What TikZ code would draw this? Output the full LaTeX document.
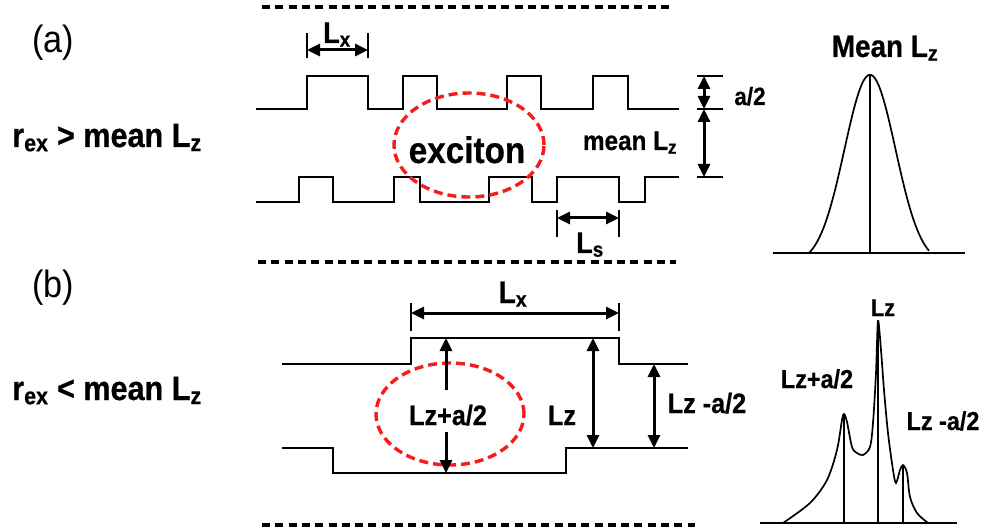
\documentclass[tikz,border=0pt]{standalone}
\usepackage{fontspec}
\setmainfont[FakeStretch=0.9, BoldFeatures={FakeBold=0.6}]{Liberation Sans}
\usetikzlibrary{arrows.meta,positioning,calc,shapes.geometric}
\definecolor{cExc}{HTML}{F51C1C}
\tikzset{
  >={Triangle[length=13pt,width=12pt]},
  lbl/.style={font=\fontsize{#1}{#1}\selectfont\bfseries, inner sep=0pt, anchor=base},
  tag/.style={font=\fontsize{#1}{#1}\selectfont, inner sep=0pt, anchor=base},
  prof/.style={line width=1.7pt, black},
  dim/.style={<->, line width=3pt},
  dimone/.style={->, line width=3pt},
  tickl/.style={line width=1.7pt},
  sepline/.style={line width=3.8pt, dash pattern=on 8pt off 5.3pt},
  exc/.style={draw=cExc, ellipse, line width=3.4pt, dash pattern=on 9pt off 5pt, inner sep=0pt},
}

\begin{document}
\begin{tikzpicture}[x=1pt, y=-1pt]
  \useasboundingbox (0,0) rectangle (989,532);
  % separators
  \draw[sepline] (262,7) -- (672,7);
  \draw[sepline] (258,262) -- (676,262);
  \draw[sepline] (262,525) -- (695,525);

  % left column
  \node[tag=38] (tagA) at (53,53) {(a)};
  \node[lbl=34] (condA) at (107,147) {r\textsubscript{ex} > mean L\textsubscript{z}};
  \node[tag=38] (tagB) at (53,297) {(b)};
  \node[lbl=34] (condB) at (107,400) {r\textsubscript{ex} < mean L\textsubscript{z}};

  % (a) rough interfaces
  \draw[prof] (256,109) -- (307,109) |- (368,76) |- (403,109) |- (437,76) |- (507,109)
              |- (541,76) |- (593,109) |- (628,76) |- (679,109);
  \draw[prof] (256,202) -- (299,202) |- (333,177) |- (394,202) |- (420,177) |- (489,202)
              |- (532,177) |- (557,202) |- (619,177) |- (645,202) |- (679,177);
  \node[exc, minimum width=150pt, minimum height=104pt] (excA) at (469,145) {};
  \node[lbl=37] (excitonA) at (467,163) {exciton};

  \coordinate (lxA1) at (307,50);
  \coordinate (lxA2) at (368,50);
  \draw[tickl] (307,33) -- (307,58) (368,33) -- (368,58);
  \draw[dim] (lxA1) -- (lxA2);
  \node[lbl=30] (lxA) at (337,43) {L\textsubscript{x}};

  \coordinate (lsA1) at (557,218);
  \coordinate (lsA2) at (619,218);
  \draw[tickl] (557,210) -- (557,237) (619,210) -- (619,237);
  \draw[dim] (lsA1) -- (lsA2);
  \node[lbl=30] (lsA) at (590,253) {L\textsubscript{s}};

  \coordinate (hA1) at (704,76);
  \coordinate (hA2) at (704,109);
  \coordinate (hA3) at (704,177);
  \draw[tickl] (697,76) -- (723,76) (697,109) -- (723,109) (697,177) -- (723,177);
  \draw[dim] (hA1) -- (hA2);
  \draw[dim] (hA2) -- (hA3);
  \node[lbl=25] (halfA) at (750,105) {a/2};
  \node[lbl=27] (meanLzA) at (630,150) {mean L\textsubscript{z}};

  % (a) distribution
  \node[lbl=31] (meanA) at (885,57) {Mean L\textsubscript{z}};
  \draw[prof] (773,253) -- (965,253);
  \draw[prof] plot[domain=809:929, samples=61] (\x, {253-189*(exp(-(\x-870)*(\x-870)/1300)-0.057)});
  \draw[prof] (870,253) -- (870,75);

  % (b) flat interfaces
  \draw[prof] (282,364) -- (411,364) |- (619,338) |- (688,364);
  \draw[prof] (282,448) -| (333,473) -| (566,448) -- (688,448);
  \node[exc, minimum width=148pt, minimum height=102pt] (excB) at (450,414) {};

  \coordinate (lxB1) at (411,313);
  \coordinate (lxB2) at (619,313);
  \draw[tickl] (411,303) -- (411,331) (619,303) -- (619,331);
  \draw[dim] (lxB1) -- (lxB2);
  \node[lbl=31] (lxB) at (513,303) {L\textsubscript{x}};

  \node[lbl=28] (lzpaB) at (448,425) {Lz+a/2};
  \coordinate (zpUp) at (446,390);
  \coordinate (zpTop) at (446,338);
  \coordinate (zpDn) at (446,432);
  \coordinate (zpBot) at (446,473);
  \draw[dimone] (zpUp) -- (zpTop);
  \draw[dimone] (zpDn) -- (zpBot);

  \coordinate (zB1) at (593,338);
  \coordinate (zB2) at (593,448);
  \draw[dim] (zB1) -- (zB2);
  \node[lbl=28] (lzB) at (562,425) {Lz};

  \coordinate (zmB1) at (654,364);
  \coordinate (zmB2) at (654,448);
  \draw[dim] (zmB1) -- (zmB2);
  \node[lbl=28] (lzmB) at (707,413) {Lz -a/2};

  % (b) distribution
  \draw[prof] (760,523) -- (957,523);
  \draw[prof] plot[smooth, tension=0.5] coordinates {(783,523) (810,503) (827,480) (837,450)
    (842,420) (844,414) (847,422) (852,447) (857,453) (863,455) (870,447) (873,423) (876,373)
    (878,321) (881,350) (884,390) (888,433) (893,470) (896,483) (900,470) (903,465) (907,473)
    (910,497) (917,513) (928,523)};
  \draw[prof] (844,523) -- (844,414);
  \draw[prof] (878,523) -- (878,321);
  \draw[prof] (903,523) -- (903,465);
  \node[lbl=24] (pkZ) at (883,316) {Lz};
  \node[lbl=26] (pkP) at (817,388) {Lz+a/2};
  \node[lbl=26] (pkM) at (943,430) {Lz -a/2};
\end{tikzpicture}
\end{document}
